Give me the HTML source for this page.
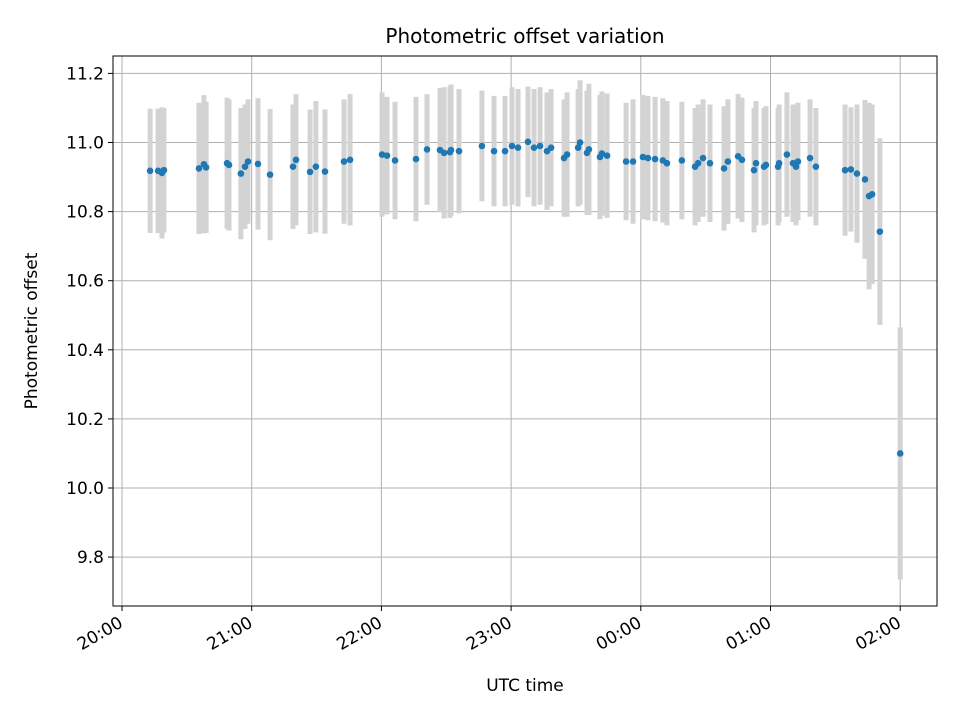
<!DOCTYPE html>
<html><head><meta charset="utf-8"><style>
body{margin:0;background:#fff;font-family:"Liberation Sans","DejaVu Sans",sans-serif}
svg text{font-family:"DejaVu Sans","Liberation Sans",sans-serif}
</style></head><body>
<svg id="chart" width="960" height="720" xmlns="http://www.w3.org/2000/svg">
<rect width="960" height="720" fill="#fff"/>
<g id="grid"></g><g id="bars"></g><g id="dots"></g><g id="axes"></g>
<text x="525" y="43" font-size="20" text-anchor="middle">Photometric offset variation</text>
<text x="525" y="691" font-size="17" text-anchor="middle">UTC time</text>
<text x="37" y="331" font-size="17" text-anchor="middle" transform="rotate(-90 37 331)">Photometric offset</text>
</svg>
<script>
const minutes=[13,16.7,18.5,19.4,35.6,37.9,38.9,48.6,49.5,55,56.9,58.3,62.9,68.5,79.1,80.5,87,89.7,93.9,102.7,105.5,120.3,122.6,126.3,136,141.1,147.1,149,151.7,152.2,155.9,166.5,172.1,177.2,180.4,183.2,187.8,190.6,193.4,196.6,198.5,204.5,205.9,211,211.9,215.1,216,221.1,222,224.4,233.2,236.4,241,243.3,246.6,250.2,252.1,259,265.1,266.5,268.8,272,278.5,280.3,285,286.8,292.4,293.3,297,297.9,303.5,304,307.6,310.4,311.8,312.7,318.3,321,334.5,337.2,340,343.7,345.6,347,350.6,360];
const offsets=[10.918,10.918,10.912,10.92,10.925,10.937,10.928,10.94,10.935,10.91,10.93,10.945,10.938,10.907,10.93,10.95,10.915,10.93,10.916,10.945,10.95,10.965,10.962,10.948,10.952,10.98,10.978,10.97,10.972,10.978,10.975,10.99,10.975,10.975,10.99,10.985,11.002,10.985,10.99,10.975,10.985,10.955,10.965,10.985,11.0,10.97,10.98,10.958,10.968,10.962,10.945,10.945,10.958,10.955,10.952,10.948,10.94,10.948,10.93,10.94,10.955,10.94,10.925,10.945,10.96,10.95,10.92,10.94,10.93,10.935,10.93,10.94,10.965,10.94,10.93,10.945,10.955,10.93,10.92,10.922,10.91,10.893,10.845,10.85,10.742,10.10];
const errors=[0.18,0.18,0.19,0.18,0.19,0.2,0.19,0.19,0.19,0.19,0.18,0.18,0.19,0.19,0.18,0.19,0.18,0.19,0.18,0.18,0.19,0.18,0.17,0.17,0.18,0.16,0.18,0.19,0.19,0.19,0.18,0.16,0.16,0.16,0.17,0.17,0.16,0.17,0.17,0.17,0.17,0.17,0.18,0.17,0.18,0.18,0.19,0.18,0.18,0.18,0.17,0.18,0.18,0.18,0.18,0.18,0.18,0.17,0.17,0.17,0.17,0.17,0.18,0.18,0.18,0.18,0.18,0.18,0.17,0.17,0.17,0.17,0.18,0.17,0.17,0.17,0.17,0.17,0.19,0.18,0.2,0.23,0.27,0.26,0.27,0.365];
const yTicks=[9.8,10.0,10.2,10.4,10.6,10.8,11.0,11.2];
const xTickMinutes=[0,60,120,180,240,300,360];
const xTickLabels=["20:00","21:00","22:00","23:00","00:00","01:00","02:00"];
const L=113,R=937,T=56,B=606;
const xs=m=>122+m*(129.7/60);
const ys=v=>488-(v-10)*345.5;
const NS="http://www.w3.org/2000/svg";
function mk(parent,tag,attrs){const e=document.createElementNS(NS,tag);for(const k in attrs)e.setAttribute(k,attrs[k]);document.getElementById(parent).appendChild(e);return e;}
yTicks.forEach((v,i)=>{
  const g=mk('grid','line',{x1:L,x2:R,y1:ys(v),y2:ys(v),stroke:'#b0b0b0','stroke-width':1});
  
  
  const t=mk('axes','line',{x1:L-5,x2:L,y1:ys(v),y2:ys(v),stroke:'#000'});
  
  
  const tx=mk('axes','text',{x:L-9,y:ys(v)+6,'font-size':17,'text-anchor':'end'});
  tx.textContent=v.toFixed(1);
  
  
});
xTickMinutes.forEach((m,i)=>{
  const x=xs(m);
  const g=mk('grid','line',{x1:x,x2:x,y1:T,y2:B,stroke:'#b0b0b0','stroke-width':1});
  
  
  const t=mk('axes','line',{x1:x,x2:x,y1:B,y2:B+5,stroke:'#000'});
  
  
  const tx=mk('axes','text',{x:x+2,y:B+20,'font-size':17,'text-anchor':'end',transform:`rotate(-30 ${x+2} ${B+20})`});
  tx.textContent=xTickLabels[i];
  
  
});
const frame=mk('axes','rect',{x:L,y:T,width:R-L,height:B-T,fill:'none',stroke:'#000','stroke-width':1});


minutes.forEach((m,i)=>{
  const x=xs(m),v=offsets[i],e=errors[i];
  const b=mk('bars','line',{x1:x,x2:x,y1:ys(v+e),y2:ys(v-e),stroke:'#d3d3d3','stroke-width':5});
  
  
  const c=mk('dots','circle',{cx:x,cy:ys(v),r:3.3,fill:'#1f77b4'});
  
  
});
</script>
</body></html>
